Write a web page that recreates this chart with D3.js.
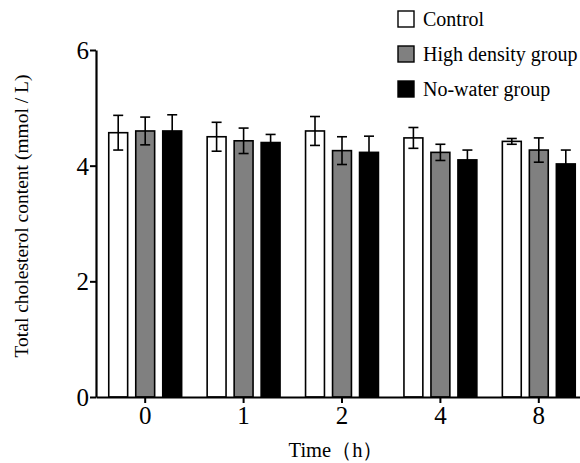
<!DOCTYPE html>
<html>
<head>
<meta charset="utf-8">
<script src="https://cdn.jsdelivr.net/npm/d3@7"></script>
<style>
  body { margin: 0; background: #fff; }
  svg text { font-family: "Liberation Serif", "Times New Roman", serif; fill: #000; }
</style>
</head>
<body>
<script>
var width = 580,
    height = 463

// data
var times = ["0", "1", "2", "4", "8"]
var groups = ["Control", "High density group", "No-water group"]
var groupColors = ["#ffffff", "#808080", "#000000"]
var controlMean = [4.57, 4.50, 4.60, 4.48, 4.42]
var controlSd = [0.30, 0.25, 0.25, 0.18, 0.05]
var densityMean = [4.60, 4.43, 4.26, 4.23, 4.27]
var densitySd = [0.24, 0.22, 0.24, 0.14, 0.21]
var noWaterMean = [4.60, 4.40, 4.23, 4.10, 4.03]
var noWaterSd = [0.28, 0.14, 0.28, 0.17, 0.24]
var yTicks = [0, 2, 4, 6]

var means = [controlMean, densityMean, noWaterMean]
var sds = [controlSd, densitySd, noWaterSd]

var margin = {left: 96, top: 50, bottom: 66}
var plotRight = 588
var serif = "'Liberation Serif', 'Times New Roman', serif"

var svg = d3.select("body").append("svg")
    .attr("width", width)
    .attr("height", height)

var x = d3.scaleBand()
    .domain(times)
    .range([margin.left, plotRight])
    .padding(0)

var sub = d3.scaleBand()
    .domain(groups)
    .range([0, 81])
    .paddingInner(0.3)
    .paddingOuter(0.15)

var y = d3.scaleLinear()
    .domain([0, 6])
    .range([height - margin.bottom, margin.top])

// flatten into one record per bar
var bars = []
times.forEach((t, i) => {
    groups.forEach((g, j) => {
        bars.push({time: t, group: g, color: groupColors[j], mean: means[j][i], sd: sds[j][i]})
    })
})

var barX = d => x(d.time) + x.bandwidth() / 2 - 40.5 + sub(d.group)
var barMid = d => barX(d) + sub.bandwidth() / 2

svg.append("g")
    .selectAll("rect")
    .data(bars)
    .enter().append("rect")
    .attr("x", barX)
    .attr("y", d => y(d.mean))
    .attr("width", sub.bandwidth())
    .attr("height", d => y(0) - y(d.mean))
    .attr("fill", d => d.color)
    .attr("stroke", "#000")
    .attr("stroke-width", 1.6)

// error bars
var err = svg.append("g")
    .selectAll("g")
    .data(bars)
    .enter().append("g")
    .attr("stroke", "#000")
    .attr("stroke-width", 1.6)
err.append("line")
    .attr("x1", barMid)
    .attr("x2", barMid)
    .attr("y1", d => y(d.mean - d.sd))
    .attr("y2", d => y(d.mean + d.sd))
err.append("line")
    .attr("x1", d => barMid(d) - 5)
    .attr("x2", d => barMid(d) + 5)
    .attr("y1", d => y(d.mean + d.sd))
    .attr("y2", d => y(d.mean + d.sd))
err.append("line")
    .attr("x1", d => barMid(d) - 5)
    .attr("x2", d => barMid(d) + 5)
    .attr("y1", d => y(d.mean - d.sd))
    .attr("y2", d => y(d.mean - d.sd))

// axes
var yAxis = svg.append("g")
    .attr("transform", `translate(${margin.left},0)`)
    .call(d3.axisLeft(y).tickValues(yTicks).tickFormat(d3.format("d"))
        .tickSize(6).tickPadding(1).tickSizeOuter(0))
yAxis.attr("font-family", null)
yAxis.select(".domain").attr("stroke-width", 2.2)
yAxis.selectAll(".tick line").attr("stroke-width", 2)
yAxis.selectAll("text")
    .style("font-size", "25px")
    .style("font-family", serif)
    .attr("dy", "0.34em")

var xAxis = svg.append("g")
    .attr("transform", `translate(0,${y(0)})`)
    .call(d3.axisBottom(x).tickSize(6).tickPadding(3).tickSizeOuter(0))
xAxis.attr("font-family", null)
xAxis.select(".domain").attr("stroke-width", 2.2)
xAxis.selectAll(".tick line").attr("stroke-width", 2)
xAxis.selectAll("text")
    .style("font-size", "25px")
    .style("font-family", serif)

svg.append("text")
    .attr("transform", `translate(28,216) rotate(-90)`)
    .attr("text-anchor", "middle")
    .style("font-size", "19.5px")
    .text("Total cholesterol content (mmol / L)")

svg.append("text")
    .attr("x", 336)
    .attr("y", 457)
    .attr("text-anchor", "middle")
    .style("font-size", "20.5px")
    .text("Time（h）")

// legend
var legend = svg.append("g")
    .selectAll("g")
    .data(groups)
    .enter().append("g")
    .attr("transform", (d, i) => `translate(398,${11 + i * 35})`)
legend.append("rect")
    .attr("width", 16)
    .attr("height", 16)
    .attr("fill", (d, i) => groupColors[i])
    .attr("stroke", "#000")
    .attr("stroke-width", 1.4)
legend.append("text")
    .attr("x", 25)
    .attr("y", 15)
    .style("font-size", "20px")
    .text(d => d)
</script>
</body>
</html>
